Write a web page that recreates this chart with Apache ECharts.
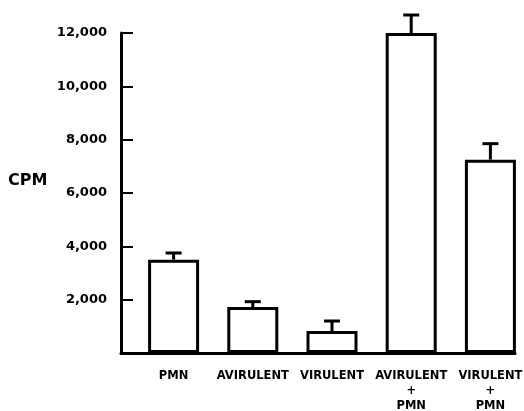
<!DOCTYPE html>
<html>
<head>
<meta charset="utf-8">
<script src="https://cdn.jsdelivr.net/npm/echarts@6/dist/echarts.min.js"></script>
<style>
  html, body { margin: 0; padding: 0; background: #fff; }
  #chart { width: 524px; height: 411px; }
</style>
</head>
<body>
<div id="chart"></div>
<script>
// values
const categories = ['PMN', 'AVIRULENT', 'VIRULENT', 'AVIRULENT\n+\nPMN', 'VIRULENT\n+\nPMN'];
const cpmMeans = [3500, 1725, 825, 12000, 7250];
const cpmUpper = [3750, 1925, 1200, 12675, 7850];
const yTicks = [0, 2000, 4000, 6000, 8000, 10000, 12000];

const FONT = 'DejaVu Sans';
const INK = '#000';

const chart = echarts.init(document.getElementById('chart'), null, { renderer: 'canvas' });

const fmt = v => v === 0 ? '' : v.toLocaleString('en-US');

const option = {
  backgroundColor: '#fff',
  animation: false,
  grid: [
    // frame: the drawn axes
    { left: 121, top: 33, width: 394, height: 320, outerBoundsMode: 'none' },
    // bars: offset slightly right, as in the original figure
    { left: 134, top: 33, width: 396, height: 320, outerBoundsMode: 'none' }
  ],
  xAxis: [
    {
      gridIndex: 0, type: 'category', data: categories,
      axisLine: { lineStyle: { color: INK, width: 3 } },
      axisTick: { show: false }, axisLabel: { show: false }
    },
    {
      gridIndex: 1, type: 'category', data: categories,
      axisLine: { show: false }, axisTick: { show: false },
      axisLabel: {
        interval: 0, margin: 16, color: INK,
        fontFamily: FONT, fontWeight: 'bold', fontSize: 11.5, lineHeight: 15
      }
    }
  ],
  yAxis: [
    {
      gridIndex: 0, type: 'value', min: yTicks[0], max: yTicks[yTicks.length - 1], interval: 2000,
      axisLine: { show: true, lineStyle: { color: INK, width: 3 } },
      axisTick: { show: true, inside: true, length: 12, lineStyle: { color: INK, width: 2 } },
      splitLine: { show: false },
      axisLabel: {
        margin: 14, color: INK, fontFamily: FONT, fontWeight: 'bold', fontSize: 13,
        formatter: fmt
      }
    },
    {
      gridIndex: 1, type: 'value', min: yTicks[0], max: yTicks[yTicks.length - 1],
      show: false
    }
  ],
  graphic: [{
    type: 'text', left: 8, top: 173,
    style: { text: 'CPM', fill: INK, font: 'bold 16px "DejaVu Sans"' }
  }],
  series: [
    {
      type: 'bar', xAxisIndex: 1, yAxisIndex: 1,
      data: cpmMeans, barWidth: 51,
      itemStyle: { color: '#fff', borderColor: INK, borderWidth: 3 },
      z: 3
    },
    {
      type: 'custom', xAxisIndex: 1, yAxisIndex: 1,
      data: cpmMeans.map((m, i) => [i, m, cpmUpper[i]]),
      renderItem: (params, api) => {
        const top = api.coord([api.value(0), api.value(1)]);
        const cap = api.coord([api.value(0), api.value(2)]);
        const half = 8;
        const style = { stroke: INK, lineWidth: 3 };
        return {
          type: 'group',
          children: [
            { type: 'line', shape: { x1: top[0], y1: top[1], x2: cap[0], y2: cap[1] }, style },
            { type: 'line', shape: { x1: cap[0] - half, y1: cap[1], x2: cap[0] + half, y2: cap[1] }, style }
          ]
        };
      },
      z: 4
    }
  ]
};

chart.setOption(option);
</script>
</body>
</html>
